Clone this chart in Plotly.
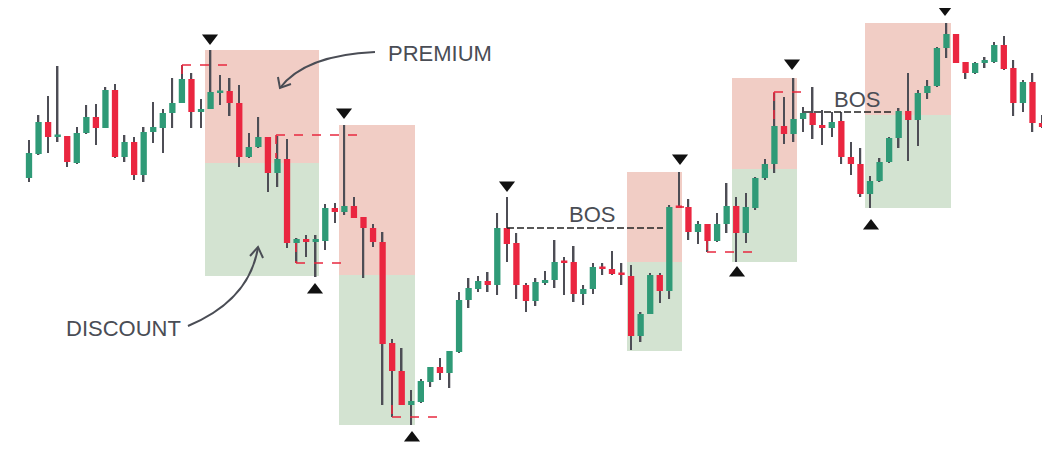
import plotly.graph_objects as go

opens  = [322,346,378,363,364,337,367,383,372,410,343,358,325,368,372,387,397,421,388,391,407,409,397,343,353,363,327,341,257,261,258,259,292,288,294,283,272,258,157,129,95,98,118,133,127,148,200,211,219,215,272,257,215,199,217,220,238,238,206,211,233,231,227,224,164,186,225,209,293,293,268,276,259,276,294,267,292,322,336,374,366,381,387,375,372,379,343,336,306,319,338,362,389,380,407,414,452,466,438,427,437,438,455,432,397,418,377]
highs  = [360,385,404,434,364,373,395,396,413,416,365,363,373,398,391,422,435,427,401,450,425,422,415,367,383,363,364,361,262,265,265,296,297,375,303,283,276,268,161,152,110,121,133,142,149,208,222,224,228,287,303,267,217,222,229,260,243,254,215,237,237,249,237,235,188,227,227,295,328,301,279,276,287,317,303,307,323,341,407,403,422,393,413,390,388,388,358,352,324,342,363,392,427,410,420,453,477,466,438,438,443,458,464,440,420,427,385]
lows   = [318,345,347,358,333,336,366,355,372,342,338,320,318,357,347,372,397,372,372,391,395,384,333,342,352,308,313,252,237,243,223,250,277,285,282,222,253,95,83,95,75,97,113,120,112,147,192,208,208,205,238,201,188,194,215,212,205,198,195,206,225,225,215,150,158,186,197,201,292,260,256,248,258,267,238,257,290,320,327,356,358,368,361,355,363,336,325,303,292,318,337,352,339,354,401,413,442,437,421,426,432,437,430,384,388,368,372]
closes = [347,378,363,364,338,367,383,372,410,343,358,325,368,373,387,397,421,388,391,408,409,397,343,353,363,327,341,257,261,258,261,292,288,294,282,272,258,156,129,95,99,119,133,127,149,200,212,219,215,272,256,215,199,218,220,238,237,206,211,233,231,226,225,164,186,225,209,293,292,268,276,259,276,294,267,293,322,336,374,366,381,387,375,372,378,343,336,306,319,338,362,389,380,407,414,452,466,437,427,437,440,455,431,397,418,377,373]

premium_label = "PREMIUM"
discount_label = "DISCOUNT"
bos_label = "BOS"

GREEN = "#2f9a77"
RED = "#ea2640"
WICK = "#4d4d55"
OFF = 8  # page body margin

def X(px):
    return (px - 29) / 9.557

def Y(py):
    return 500 - py

idx = list(range(len(opens)))
fig = go.Figure()

fig.add_trace(go.Bar(x=idx, y=[h - l for h, l in zip(highs, lows)], base=lows,
                     width=0.16, marker=dict(color=WICK, line=dict(width=0)), hoverinfo="skip"))
bcol = [GREEN if c >= o else RED for o, c in zip(opens, closes)]
bbase = [min(o, c) for o, c in zip(opens, closes)]
bh = [max(abs(c - o), 2.5) for o, c in zip(opens, closes)]
fig.add_trace(go.Bar(x=idx, y=bh, base=bbase, width=0.66,
                     marker=dict(color=bcol, line=dict(width=0))))

shapes = []
boxes = [(205, 319, 50, 163, 276), (339, 415, 125, 275, 425), (627, 682, 172, 262, 351),
         (732, 797, 78, 169, 262), (865, 951, 23, 115, 208)]
for x0, x1, yt, ym, yb in boxes:
    shapes.append(dict(type="rect", x0=X(x0), x1=X(x1), y0=Y(ym), y1=Y(yt), layer="below",
                       fillcolor="#f1cdc5", line=dict(width=0)))
    shapes.append(dict(type="rect", x0=X(x0), x1=X(x1), y0=Y(yb), y1=Y(ym), layer="below",
                       fillcolor="#d3e3d1", line=dict(width=0)))

def dline(x0, y0, x1, y1, color, w=1.6, dash="dash"):
    shapes.append(dict(type="line", x0=X(x0), y0=Y(y0), x1=X(x1), y1=Y(y1),
                       line=dict(color=color, width=w, dash=dash)))

r = "#e8283f"
dline(182, 65, 227, 65, r); dline(182, 65, 182, 78, r)
dline(276, 135, 362, 135, r); dline(276, 135, 276, 158, r)
dline(296, 263, 342, 263, r); dline(296, 243, 296, 263, r)
dline(392, 417, 438, 417, r); dline(392, 405, 392, 417, r)
dline(707, 252, 753, 252, r); dline(707, 241, 707, 252, r)
dline(774, 92, 808, 92, r); dline(774, 92, 774, 126, r)
dline(676, 207, 684, 207, r)
dline(507, 228, 663, 228, "#222", 1.5, "7px,3px")
dline(804, 112, 893, 112, "#222", 1.5, "7px,3px")

def P(px, py):
    return f"{(px-OFF)/1050:.4f},{1-(py-OFF)/454:.4f}"
ac = "#4a4d55"
shapes.append(dict(type="path", xref="paper", yref="paper",
                   path=f"M{P(375,52)} Q{P(305,55)} {P(280,88)}", line=dict(color=ac, width=2)))
shapes.append(dict(type="path", xref="paper", yref="paper",
                   path=f"M{P(278,77)} L{P(280,88)} L{P(291,84)}", line=dict(color=ac, width=2)))
shapes.append(dict(type="path", xref="paper", yref="paper",
                   path=f"M{P(188,326)} Q{P(250,300)} {P(258,247)}", line=dict(color=ac, width=2)))
shapes.append(dict(type="path", xref="paper", yref="paper",
                   path=f"M{P(250,256)} L{P(258,247)} L{P(263,258)}", line=dict(color=ac, width=2)))
fig.update_layout(shapes=shapes)

downs = [(210, 38), (344, 112), (507, 185), (680, 158), (792, 63), (945, 9)]
ups = [(315, 290), (412, 438), (737, 273), (871, 226)]
fig.add_trace(go.Scatter(x=[X(a) for a, b in downs], y=[Y(b) for a, b in downs], mode="markers",
                         marker=dict(symbol="triangle-down", size=14, color="#111")))
fig.add_trace(go.Scatter(x=[X(a) for a, b in ups], y=[Y(b) for a, b in ups], mode="markers",
                         marker=dict(symbol="triangle-up", size=14, color="#111")))

font = dict(family="Liberation Sans, Arial, sans-serif", size=22, color="#4a4d55")
fig.add_annotation(x=X(440), y=Y(53), text=premium_label, showarrow=False, font=font)
fig.add_annotation(x=X(123), y=Y(328), text=discount_label, showarrow=False, font=font)
fig.add_annotation(x=X(592), y=Y(214), text=bos_label, showarrow=False, font=font)
fig.add_annotation(x=X(857), y=Y(99), text=bos_label, showarrow=False, font=font)

fig.update_layout(
    width=1050, height=454, margin=dict(l=0, r=0, t=0, b=0),
    paper_bgcolor="white", plot_bgcolor="white", showlegend=False, barmode="overlay",
    xaxis=dict(range=[X(OFF), X(1050 + OFF)], visible=False, fixedrange=True),
    yaxis=dict(range=[Y(454 + OFF), Y(OFF)], visible=False, fixedrange=True),
)
fig.write_html("out.html", config={"displayModeBar": False})
